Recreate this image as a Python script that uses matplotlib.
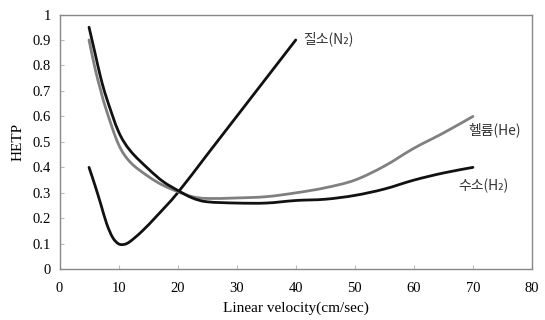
#!/usr/bin/env python3
"""HETP vs linear velocity for three carrier gases (van Deemter curves)."""

import matplotlib
matplotlib.use("Agg")
import matplotlib.pyplot as plt
from matplotlib.path import Path
from matplotlib.patches import PathPatch

velocity_n2 = [5, 6, 7, 8, 9, 10, 11, 12, 14, 16.5, 20, 25, 30, 35, 40]
hetp_n2 = [0.40, 0.33, 0.255, 0.178, 0.125, 0.10, 0.098, 0.11, 0.15, 0.21, 0.30, 0.45, 0.60, 0.75, 0.90]

velocity_he = [5, 6, 7, 8, 10, 12, 15, 17.5, 20, 22.5, 25, 30, 35, 40, 45, 50, 55, 60, 65, 70]
hetp_he = [0.90, 0.79, 0.70, 0.62, 0.49, 0.42, 0.365, 0.33, 0.305, 0.285, 0.278, 0.28, 0.285,
           0.30, 0.32, 0.35, 0.405, 0.475, 0.535, 0.60]

velocity_h2 = [5, 6, 7, 8, 10, 12, 15, 17.5, 20, 22.5, 25, 30, 35, 40, 45, 50, 55, 60, 65, 70]
hetp_h2 = [0.95, 0.85, 0.75, 0.67, 0.54, 0.465, 0.395, 0.345, 0.31, 0.28, 0.265, 0.26, 0.26,
           0.27, 0.275, 0.29, 0.315, 0.35, 0.378, 0.40]

label_n2 = "질소(N₂)"
label_he = "헬륨(He)"
label_h2 = "수소(H₂)"

xticks = list(range(0, 81, 10))
yticks = [i / 10 for i in range(11)]
ytick_labels = ["0", "0.1", "0.2", "0.3", "0.4", "0.5", "0.6", "0.7", "0.8", "0.9", "1"]


def smooth_path(xs, ys, tension=1 / 6):
    # Catmull-Rom style cubic Bezier through the data points (like Excel smoothed lines)
    verts = [(xs[0], ys[0])]
    codes = [Path.MOVETO]
    n = len(xs)
    for i in range(n - 1):
        x0, y0 = (xs[i - 1], ys[i - 1]) if i > 0 else (xs[i], ys[i])
        x1, y1 = xs[i], ys[i]
        x2, y2 = xs[i + 1], ys[i + 1]
        x3, y3 = (xs[i + 2], ys[i + 2]) if i + 2 < n else (x2, y2)
        c1 = (x1 + (x2 - x0) * tension, y1 + (y2 - y0) * tension)
        c2 = (x2 - (x3 - x1) * tension, y2 - (y3 - y1) * tension)
        verts += [c1, c2, (x2, y2)]
        codes += [Path.CURVE4] * 3
    return Path(verts, codes)


def add_curve(ax, xs, ys, color):
    patch = PathPatch(smooth_path(xs, ys), facecolor="none", edgecolor=color,
                      linewidth=2.0, capstyle="round", joinstyle="round")
    ax.add_patch(patch)


fig = plt.figure(figsize=(5.45, 3.2), dpi=100)
ax = fig.add_axes([59.5 / 545, (320 - 269.3) / 320, 472.5 / 545, 254.8 / 320])

add_curve(ax, velocity_n2, hetp_n2, "#111111")
add_curve(ax, velocity_he, hetp_he, "#808080")
add_curve(ax, velocity_h2, hetp_h2, "#111111")

ax.set_xlim(0, 80)
ax.set_ylim(0, 1)
ax.set_xticks(xticks)
ax.set_yticks(yticks)
ax.set_yticklabels(ytick_labels)
ax.tick_params(direction="in", length=3, color="#bbbbbb", labelsize=10.5)
ax.tick_params(axis="x", pad=9.5)
ax.tick_params(axis="y", pad=6)
for lbl in ax.get_xticklabels() + ax.get_yticklabels():
    lbl.set_family("Liberation Serif")
for s in ax.spines.values():
    s.set_color("#888888")
    s.set_linewidth(1.0)

ax.set_xlabel("Linear velocity(cm/sec)", family="Liberation Serif", fontsize=11, labelpad=4)
ax.set_ylabel("HETP", family="Liberation Serif", fontsize=11, labelpad=6)

kfont = ["Noto Sans CJK KR", "DejaVu Sans"]
ax.text(41.3, 0.905, label_n2, family=kfont, fontsize=10, color="#333333", va="center")
ax.text(69.2, 0.546, label_he, family=kfont, fontsize=10, color="#333333", va="center")
ax.text(67.5, 0.327, label_h2, family=kfont, fontsize=10, color="#333333", va="center")

fig.savefig("out.png", dpi=100)
